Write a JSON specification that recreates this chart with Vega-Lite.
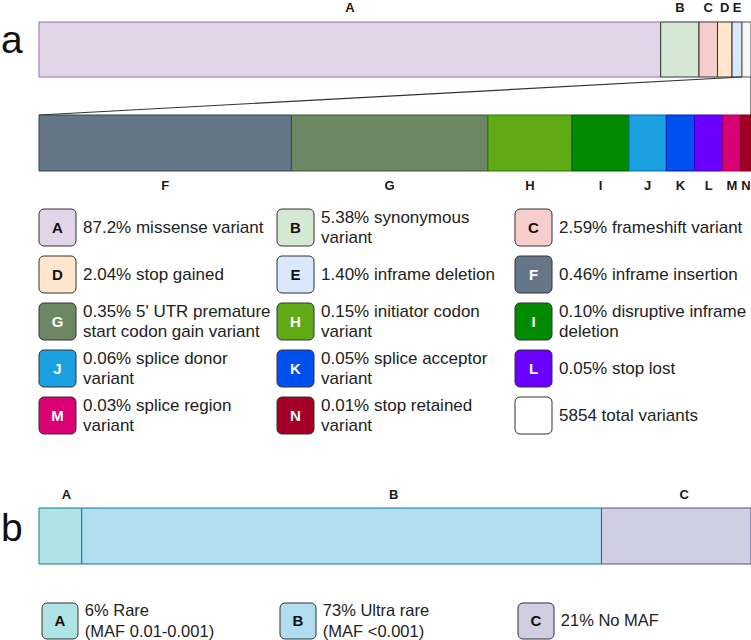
{
  "$schema": "https://vega.github.io/schema/vega-lite/v6.json",
  "padding": 0,
  "background": "white",
  "spacing": 12,
  "resolve": {"scale": {"x": "independent", "y": "independent", "fill": "independent", "stroke": "independent", "color": "independent"}},
  "config": {
    "view": {"stroke": null},
    "font": "Liberation Sans",
    "scale": {"continuousPadding": 0},
    "header": {"labels": false, "labelExpr": "''", "labelFontSize": 0, "labelPadding": 0, "titleFontSize": 0, "titlePadding": 0}
  },
  "datasets": {
    "overview": [
      {"k": 1, "key": "A", "tag": "A", "pct": 87.2},
      {"k": 2, "key": "B", "tag": "B", "pct": 5.38},
      {"k": 3, "key": "C", "tag": "C", "pct": 2.59},
      {"k": 4, "key": "D", "tag": "D", "pct": 2.04},
      {"k": 5, "key": "E", "tag": "E", "pct": 1.40},
      {"k": 6, "key": "rest", "tag": "", "pct": 1.26}
    ],
    "detail": [
      {"k": 1, "key": "F", "pct": 0.447},
      {"k": 2, "key": "G", "pct": 0.348},
      {"k": 3, "key": "H", "pct": 0.149},
      {"k": 4, "key": "I", "pct": 0.101},
      {"k": 5, "key": "J", "pct": 0.066},
      {"k": 6, "key": "K", "pct": 0.050},
      {"k": 7, "key": "L", "pct": 0.050},
      {"k": 8, "key": "M", "pct": 0.032},
      {"k": 9, "key": "N", "pct": 0.018}
    ],
    "zoom": [
      {"from": 98.61, "to": 0},
      {"from": 99.87, "to": 99.87}
    ],
    "legendA": [
      {"k": 1, "key": "A", "tag": "A", "lines": 1, "desc": "87.2% missense variant"},
      {"k": 2, "key": "B", "tag": "B", "lines": 2, "desc": "5.38% synonymous\nvariant"},
      {"k": 3, "key": "C", "tag": "C", "lines": 1, "desc": "2.59% frameshift variant"},
      {"k": 4, "key": "D", "tag": "D", "lines": 1, "desc": "2.04% stop gained"},
      {"k": 5, "key": "E", "tag": "E", "lines": 1, "desc": "1.40% inframe deletion"},
      {"k": 6, "key": "F", "tag": "F", "lines": 1, "desc": "0.46% inframe insertion"},
      {"k": 7, "key": "G", "tag": "G", "lines": 2, "desc": "0.35% 5' UTR premature\nstart codon gain variant"},
      {"k": 8, "key": "H", "tag": "H", "lines": 2, "desc": "0.15% initiator codon\nvariant"},
      {"k": 9, "key": "I", "tag": "I", "lines": 2, "desc": "0.10% disruptive inframe\ndeletion"},
      {"k": 10, "key": "J", "tag": "J", "lines": 2, "desc": "0.06% splice donor\nvariant"},
      {"k": 11, "key": "K", "tag": "K", "lines": 2, "desc": "0.05% splice acceptor\nvariant"},
      {"k": 12, "key": "L", "tag": "L", "lines": 1, "desc": "0.05% stop lost"},
      {"k": 13, "key": "M", "tag": "M", "lines": 2, "desc": "0.03% splice region\nvariant"},
      {"k": 14, "key": "N", "tag": "N", "lines": 2, "desc": "0.01% stop retained\nvariant"},
      {"k": 15, "key": "total", "tag": "", "lines": 1, "desc": "5854 total variants"}
    ],
    "maf": [
      {"k": 1, "key": "A", "pct": 6, "lines": 2, "desc": "6% Rare\n(MAF 0.01-0.001)"},
      {"k": 2, "key": "B", "pct": 73, "lines": 2, "desc": "73% Ultra rare\n(MAF <0.001)"},
      {"k": 3, "key": "C", "pct": 21, "lines": 1, "desc": "21% No MAF"}
    ]
  },
  "vconcat": [
    {
      "width": 751,
      "height": 196,
      "layer": [
        {
          "data": {"name": "overview"},
          "layer": [
            {
              "mark": {"type": "bar", "orient": "horizontal", "strokeWidth": 1},
              "encoding": {
                "x": {"field": "pct", "type": "quantitative", "stack": "zero", "scale": {"domain": [0, 99.87], "range": [38, 750], "padding": 0}, "axis": null},
                "y": {"datum": 0, "type": "quantitative", "scale": {"domain": [0, 1], "range": [22, 77], "padding": 0}, "axis": null},
                "y2": {"datum": 1},
                "fill": {"field": "key", "type": "nominal", "scale": {"domain": ["A", "B", "C", "D", "E", "rest"], "range": ["#e1d5e7", "#d5e8d4", "#f8cecc", "#ffe6cc", "#dae8fc", "#f7f7f7"]}, "legend": null},
                "stroke": {"field": "key", "type": "nominal", "scale": {"domain": ["A", "B", "C", "D", "E", "rest"], "range": ["#9673a6", "#333333", "#333333", "#333333", "#333333", "#555555"]}, "legend": null},
                "order": {"field": "k", "type": "quantitative"}
              }
            },
            {
              "mark": {"type": "text", "fontSize": 13, "fontWeight": "bold", "color": "#1a1a1a", "baseline": "middle", "align": "center"},
              "encoding": {
                "x": {"field": "pct", "type": "quantitative", "stack": "zero", "bandPosition": 0.5, "scale": {"domain": [0, 99.87], "range": [38, 750], "padding": 0}, "axis": null},
                "y": {"datum": -0.2545, "type": "quantitative", "scale": {"domain": [0, 1], "range": [22, 77], "padding": 0}, "axis": null},
                "detail": {"field": "key", "type": "nominal"},
                "order": {"field": "k", "type": "quantitative"},
                "text": {"field": "tag", "type": "nominal"}
              }
            },
            {
              "data": {"name": "zoom"},
              "mark": {"type": "rule", "color": "#333333", "strokeWidth": 1.2},
              "encoding": {
                "x": {"field": "from", "type": "quantitative", "scale": {"domain": [0, 99.87], "range": [38, 750], "padding": 0}, "axis": null},
                "x2": {"field": "to"},
                "y": {"datum": 1, "type": "quantitative", "scale": {"domain": [0, 1], "range": [22, 77], "padding": 0}, "axis": null},
                "y2": {"datum": 1.691}
              }
            },
            {
              "data": {"values": [{"t": "a"}]},
              "mark": {"type": "text", "fontSize": 39, "color": "#111111", "align": "left", "baseline": "alphabetic"},
              "encoding": {
                "x": {"datum": -5.33, "type": "quantitative", "scale": {"domain": [0, 99.87], "range": [38, 750], "padding": 0}, "axis": null},
                "y": {"datum": 0.5636, "type": "quantitative", "scale": {"domain": [0, 1], "range": [22, 77], "padding": 0}, "axis": null},
                "text": {"field": "t", "type": "nominal"}
              }
            }
          ]
        },
        {
          "data": {"name": "detail"},
          "layer": [
            {
              "mark": {"type": "bar", "orient": "horizontal", "strokeWidth": 1},
              "encoding": {
                "x": {"field": "pct", "type": "quantitative", "stack": "zero", "scale": {"domain": [0, 1.261], "range": [38, 750], "padding": 0}, "axis": null},
                "y": {"datum": 1.691, "type": "quantitative", "scale": {"domain": [0, 1], "range": [22, 77], "padding": 0}, "axis": null},
                "y2": {"datum": 2.709},
                "fill": {"field": "key", "type": "nominal", "scale": {"domain": ["F", "G", "H", "I", "J", "K", "L", "M", "N"], "range": ["#647687", "#6d8764", "#60a917", "#008a00", "#1ba1e2", "#0050ef", "#6a00ff", "#d80073", "#a20025"]}, "legend": null},
                "stroke": {"field": "key", "type": "nominal", "scale": {"domain": ["F", "G", "H", "I", "J", "K", "L", "M", "N"], "range": ["#314354", "#3a5431", "#2d7600", "#005700", "#006eaf", "#001dbc", "#3700cc", "#a50040", "#6f0000"]}, "legend": null},
                "order": {"field": "k", "type": "quantitative"}
              }
            },
            {
              "mark": {"type": "text", "fontSize": 13, "fontWeight": "bold", "color": "#1a1a1a", "baseline": "middle", "align": "center"},
              "encoding": {
                "x": {"field": "pct", "type": "quantitative", "stack": "zero", "bandPosition": 0.5, "scale": {"domain": [0, 1.261], "range": [38, 750], "padding": 0}, "axis": null},
                "y": {"datum": 2.982, "type": "quantitative", "scale": {"domain": [0, 1], "range": [22, 77], "padding": 0}, "axis": null},
                "detail": {"field": "key", "type": "nominal"},
                "order": {"field": "k", "type": "quantitative"},
                "text": {"field": "key", "type": "nominal"}
              }
            }
          ]
        }
      ],
      "resolve": {"scale": {"x": "independent", "fill": "independent", "stroke": "independent"}}
    },
    {
      "data": {"name": "legendA"},
      "facet": {"field": "k", "type": "ordinal", "title": null, "header": {"labels": false, "labelExpr": "''", "labelFontSize": 0, "labelPadding": 0, "titlePadding": 0}, "sort": "ascending"},
      "columns": 3,
      "spacing": {"row": 10, "column": 6},
      "bounds": "flush",
      "spec": {
        "width": 232,
        "height": 37,
        "layer": [
          {
            "mark": {"type": "rect", "cornerRadius": 5, "stroke": "#333333", "strokeWidth": 1},
            "encoding": {
              "x": {"datum": 0, "type": "quantitative", "scale": {"domain": [0, 1], "range": [38, 75], "padding": 0}, "axis": null},
              "x2": {"datum": 1},
              "y": {"datum": 0, "type": "quantitative", "scale": {"domain": [0, 1], "padding": 0}, "axis": null},
              "y2": {"datum": 1},
              "fill": {"field": "key", "type": "nominal", "scale": {"domain": ["A", "B", "C", "D", "E", "F", "G", "H", "I", "J", "K", "L", "M", "N", "total"], "range": ["#e1d5e7", "#d5e8d4", "#f8cecc", "#ffe6cc", "#dae8fc", "#647687", "#6d8764", "#60a917", "#008a00", "#1ba1e2", "#0050ef", "#6a00ff", "#d80073", "#a20025", "#ffffff"]}, "legend": null}
            }
          },
          {
            "mark": {"type": "text", "fontSize": 15, "fontWeight": "bold", "align": "center", "baseline": "middle"},
            "encoding": {
              "x": {"datum": 0.5, "type": "quantitative", "scale": {"domain": [0, 1], "range": [38, 75], "padding": 0}, "axis": null},
              "y": {"datum": 0.5, "type": "quantitative", "scale": {"domain": [0, 1], "padding": 0}, "axis": null},
              "text": {"field": "tag", "type": "nominal"},
              "color": {"field": "key", "type": "nominal", "scale": {"domain": ["A", "B", "C", "D", "E", "F", "G", "H", "I", "J", "K", "L", "M", "N", "total"], "range": ["#111111", "#111111", "#111111", "#111111", "#111111", "#ffffff", "#ffffff", "#ffffff", "#ffffff", "#ffffff", "#ffffff", "#ffffff", "#ffffff", "#ffffff", "#111111"]}, "legend": null}
            }
          },
          {
            "mark": {"type": "text", "fontSize": 17, "align": "left", "baseline": "middle", "lineBreak": "\n", "lineHeight": 20, "color": "#222222"},
            "encoding": {
              "x": {"datum": 1.19, "type": "quantitative", "scale": {"domain": [0, 1], "range": [38, 75], "padding": 0}, "axis": null},
              "y": {"datum": 0.5, "type": "quantitative", "scale": {"domain": [0, 1], "padding": 0}, "axis": null},
              "yOffset": {"field": "lines", "type": "quantitative", "scale": {"domain": [1, 2], "range": [0, -10]}},
              "text": {"field": "desc", "type": "nominal"}
            }
          }
        ]
      }
    },
    {
      "width": 751,
      "height": 143,
      "data": {"name": "maf"},
      "layer": [
        {
          "mark": {"type": "bar", "orient": "horizontal", "strokeWidth": 1},
          "encoding": {
            "x": {"field": "pct", "type": "quantitative", "stack": "zero", "scale": {"domain": [0, 100], "range": [38, 750], "padding": 0}, "axis": null},
            "y": {"datum": 0, "type": "quantitative", "scale": {"domain": [0, 1], "range": [61, 117], "padding": 0}, "axis": null},
            "y2": {"datum": 1},
            "fill": {"field": "key", "type": "nominal", "scale": {"domain": ["A", "B", "C"], "range": ["#b0e3e6", "#b1ddf0", "#d0cee2"]}, "legend": null},
            "stroke": {"field": "key", "type": "nominal", "scale": {"domain": ["A", "B", "C"], "range": ["#0e8088", "#10739e", "#56517e"]}, "legend": null},
            "order": {"field": "k", "type": "quantitative"}
          }
        },
        {
          "transform": [{"filter": "datum.key === 'A'"}],
          "mark": {"type": "text", "fontSize": 13, "fontWeight": "bold", "color": "#1a1a1a", "baseline": "middle", "align": "center", "dx": 6},
          "encoding": {
            "x": {"datum": 3, "type": "quantitative", "scale": {"domain": [0, 100], "range": [38, 750], "padding": 0}, "axis": null},
            "y": {"datum": -0.232, "type": "quantitative", "scale": {"domain": [0, 1], "range": [61, 117], "padding": 0}, "axis": null},
            "text": {"field": "key", "type": "nominal"}
          }
        },
        {
          "transform": [{"filter": "datum.key === 'B'"}],
          "mark": {"type": "text", "fontSize": 13, "fontWeight": "bold", "color": "#1a1a1a", "baseline": "middle", "align": "center", "dx": 52},
          "encoding": {
            "x": {"datum": 42.5, "type": "quantitative", "scale": {"domain": [0, 100], "range": [38, 750], "padding": 0}, "axis": null},
            "y": {"datum": -0.232, "type": "quantitative", "scale": {"domain": [0, 1], "range": [61, 117], "padding": 0}, "axis": null},
            "text": {"field": "key", "type": "nominal"}
          }
        },
        {
          "transform": [{"filter": "datum.key === 'C'"}],
          "mark": {"type": "text", "fontSize": 13, "fontWeight": "bold", "color": "#1a1a1a", "baseline": "middle", "align": "center", "dx": 8},
          "encoding": {
            "x": {"datum": 89.5, "type": "quantitative", "scale": {"domain": [0, 100], "range": [38, 750], "padding": 0}, "axis": null},
            "y": {"datum": -0.232, "type": "quantitative", "scale": {"domain": [0, 1], "range": [61, 117], "padding": 0}, "axis": null},
            "text": {"field": "key", "type": "nominal"}
          }
        },
        {
          "data": {"values": [{"t": "b"}]},
          "mark": {"type": "text", "fontSize": 39, "color": "#111111", "align": "left", "baseline": "alphabetic"},
          "encoding": {
            "x": {"datum": -5.34, "type": "quantitative", "scale": {"domain": [0, 100], "range": [38, 750], "padding": 0}, "axis": null},
            "y": {"datum": 0.589, "type": "quantitative", "scale": {"domain": [0, 1], "range": [61, 117], "padding": 0}, "axis": null},
            "text": {"field": "t", "type": "nominal"}
          }
        }
      ]
    },
    {
      "data": {"name": "maf"},
      "facet": {"field": "k", "type": "ordinal", "title": null, "header": {"labels": false, "labelExpr": "''", "labelFontSize": 0, "labelPadding": 0, "titlePadding": 0}, "sort": "ascending"},
      "columns": 3,
      "spacing": {"row": 10, "column": 6},
      "bounds": "flush",
      "spec": {
        "width": 232,
        "height": 36,
        "layer": [
          {
            "mark": {"type": "rect", "cornerRadius": 5, "stroke": "#333333", "strokeWidth": 1},
            "encoding": {
              "x": {"datum": 0, "type": "quantitative", "scale": {"domain": [0, 1], "range": [41, 77], "padding": 0}, "axis": null},
              "x2": {"datum": 1},
              "y": {"datum": 0, "type": "quantitative", "scale": {"domain": [0, 1], "padding": 0}, "axis": null},
              "y2": {"datum": 1},
              "fill": {"field": "key", "type": "nominal", "scale": {"domain": ["A", "B", "C"], "range": ["#b0e3e6", "#b1ddf0", "#d0cee2"]}, "legend": null}
            }
          },
          {
            "mark": {"type": "text", "fontSize": 15, "fontWeight": "bold", "align": "center", "baseline": "middle", "color": "#111111"},
            "encoding": {
              "x": {"datum": 0.5, "type": "quantitative", "scale": {"domain": [0, 1], "range": [41, 77], "padding": 0}, "axis": null},
              "y": {"datum": 0.5, "type": "quantitative", "scale": {"domain": [0, 1], "padding": 0}, "axis": null},
              "text": {"field": "key", "type": "nominal"}
            }
          },
          {
            "mark": {"type": "text", "fontSize": 16.5, "align": "left", "baseline": "middle", "lineBreak": "\n", "lineHeight": 21, "color": "#222222"},
            "encoding": {
              "x": {"datum": 1.19, "type": "quantitative", "scale": {"domain": [0, 1], "range": [41, 77], "padding": 0}, "axis": null},
              "y": {"datum": 0.5, "type": "quantitative", "scale": {"domain": [0, 1], "padding": 0}, "axis": null},
              "yOffset": {"field": "lines", "type": "quantitative", "scale": {"domain": [1, 2], "range": [0, -10.5]}},
              "text": {"field": "desc", "type": "nominal"}
            }
          }
        ]
      }
    }
  ]
}
